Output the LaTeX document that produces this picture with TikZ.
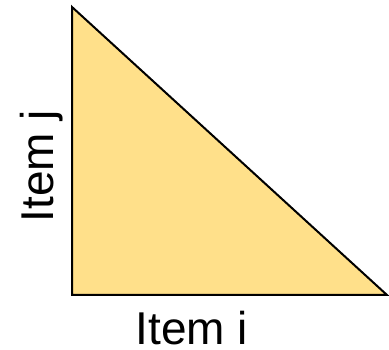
\documentclass[tikz,border=0pt]{standalone}
\usepackage{fontspec}
\setmainfont{Liberation Sans}
\definecolor{triyellow}{HTML}{FFE08A}
\begin{document}
\begin{tikzpicture}[x=1pt,y=-1pt,
  lbl/.style={font=\fontsize{46}{50}\selectfont, inner sep=0pt, text=black}]
\useasboundingbox (0,0) rectangle (389,350);
\coordinate (top) at (72,7);
\coordinate (bl) at (72,295);
\coordinate (br) at (387,295);
\draw[line width=2pt, fill=triyellow, line join=miter] (top) -- (bl) -- (br) -- cycle;
\node[lbl, anchor=base, text depth=0pt] (itemi) at (192,345) {Item i};
\node[lbl, anchor=base, rotate=90] (itemj) at (53,166) {Item j};
\end{tikzpicture}
\end{document}
